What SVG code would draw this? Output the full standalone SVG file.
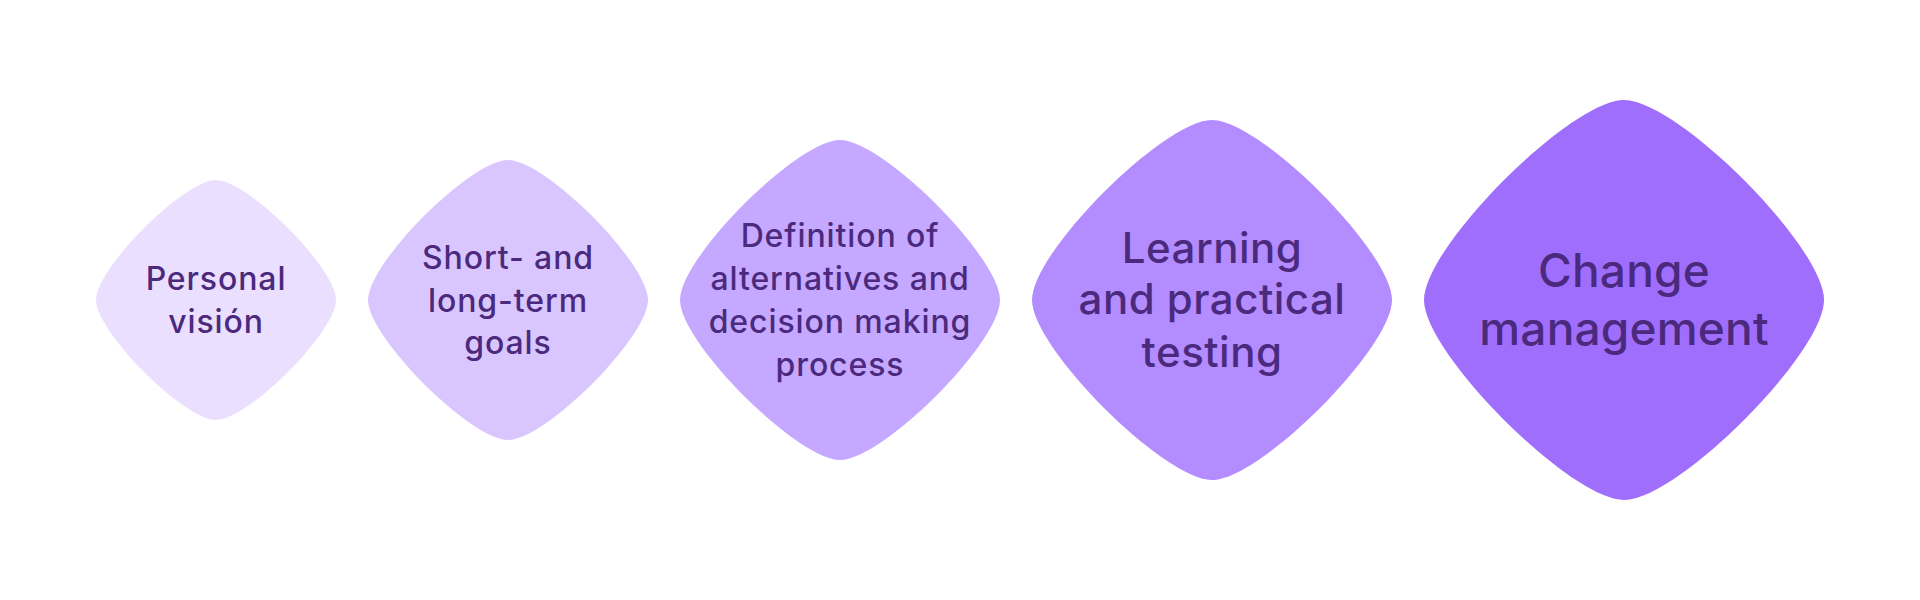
<svg xmlns="http://www.w3.org/2000/svg" xmlns:xlink="http://www.w3.org/1999/xlink" width="1920" height="600" viewBox="0 0 1920 600">
<style>
.lbl{font-family:Inter,"Noto Sans","Liberation Sans",sans-serif;font-weight:500;fill:#4B2A7E;text-anchor:middle}
.s{font-size:32px;letter-spacing:0.9px}
.m{font-size:42px;letter-spacing:0.5px}
.l{font-size:46px;letter-spacing:0.2px}
</style>
<defs>
<path id="blob" d="M0,-100 C14,-100 40,-80 60,-60 C80,-40 100,-14 100,0 C100,14 80,40 60,60 C40,80 14,100 0,100 C-14,100 -40,80 -60,60 C-80,40 -100,14 -100,0 C-100,-14 -80,-40 -60,-60 C-40,-80 -14,-100 0,-100 Z"/>
</defs>
<rect width="1920" height="600" fill="#FFFFFF"/>
<g id="connectors"></g>
<g id="node1">
<use href="#blob" xlink:href="#blob" transform="translate(216,300) scale(1.2)" fill="#EBDFFF"/>
<text class="lbl s" x="216" y="290">Personal</text>
<text class="lbl s" x="216" y="333">visión</text>
</g>
<g id="node2">
<use href="#blob" xlink:href="#blob" transform="translate(508,300) scale(1.4)" fill="#D9C6FF"/>
<text class="lbl s" x="508" y="268.5">Short- and</text>
<text class="lbl s" x="508" y="311.5">long-term</text>
<text class="lbl s" x="508" y="354">goals</text>
</g>
<g id="node3">
<use href="#blob" xlink:href="#blob" transform="translate(840,300) scale(1.6)" fill="#C5A8FF"/>
<text class="lbl s" x="840" y="247">Definition of</text>
<text class="lbl s" x="840" y="290">alternatives and</text>
<text class="lbl s" x="840" y="333">decision making</text>
<text class="lbl s" x="840" y="376">process</text>
</g>
<g id="node4">
<use href="#blob" xlink:href="#blob" transform="translate(1212,300) scale(1.8)" fill="#B38CFF"/>
<text class="lbl m" x="1212" y="263">Learning</text>
<text class="lbl m" x="1212" y="314">and practical</text>
<text class="lbl m" x="1212" y="366.5">testing</text>
</g>
<g id="node5">
<use href="#blob" xlink:href="#blob" transform="translate(1624,300) scale(2)" fill="#A06EFD"/>
<text class="lbl l" x="1624" y="287">Change</text>
<text class="lbl l" x="1624" y="345">management</text>
</g>
</svg>
